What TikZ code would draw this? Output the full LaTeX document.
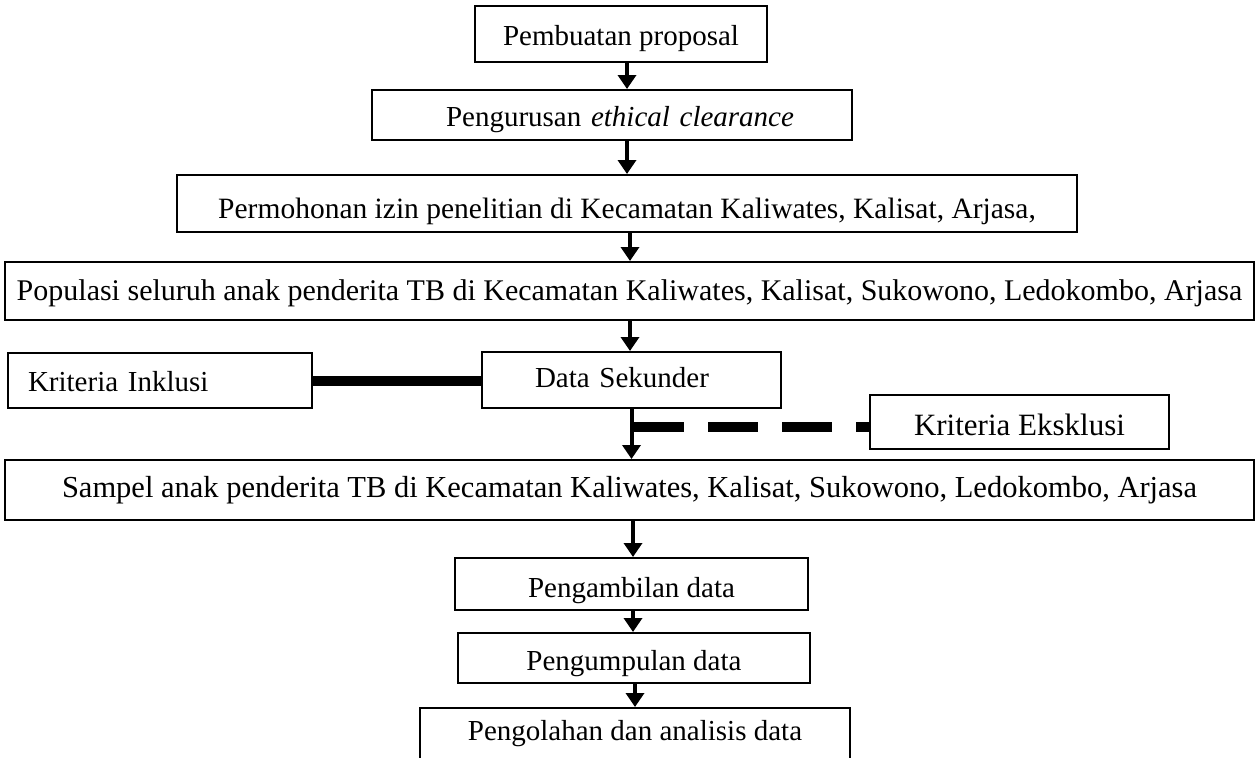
\documentclass[tikz,border=0pt]{standalone}
\usepackage{fontspec}
\setmainfont{Liberation Serif}
\usetikzlibrary{arrows.meta}

\tikzset{
  stepbox/.style={draw, line width=2pt, inner sep=0pt, align=center,
    text height=26pt, text depth=4pt, font=\fontsize{29}{34}\selectfont},
  fs/.style={font=\fontsize{#1}{#1}\selectfont},
  tb/.style n args={2}{text height=#1, text depth=#2},
  flow/.style={line width=4pt, -{Triangle[width=18pt,length=14pt]}},
  incline/.style={line width=10pt},
  exline/.style={line width=10pt, dash pattern=on 50pt off 24pt, dash phase=-2pt}
}

\begin{document}
\begin{tikzpicture}[x=1pt,y=-1pt]
  \useasboundingbox (0,0) rectangle (1259,758);
  \clip (0,0) rectangle (1259,758);
  \fill[white] (0,0) rectangle (1259,758);

  % main column of steps
  \node[stepbox, minimum width=292pt, minimum height=56pt] (b1) at (621,34) {Pembuatan proposal};
  \node[stepbox, minimum height=50pt, text width=464pt, inner xsep=8pt] (b2) at (612,115) {\hspace*{16pt}Pengurusan \textit{ethical clearance}};
  \node[stepbox, fs=29.5, tb={29pt}{0pt}, minimum width=900pt, minimum height=57pt] (b3) at (627,203.5) {Permohonan izin penelitian di Kecamatan Kaliwates, Kalisat, Arjasa,};
  \node[stepbox, fs=30, tb={24pt}{6pt}, minimum width=1249pt, minimum height=58pt] (b4) at (629.5,291) {Populasi seluruh anak penderita TB di Kecamatan Kaliwates, Kalisat, Sukowono, Ledokombo, Arjasa};

  % selection by criteria
  \node[stepbox, minimum height=55pt, text width=264pt, inner xsep=20pt, align=left] (inkl) at (160,380.5) {Kriteria Inklusi};
  \node[stepbox, tb={20pt}{6pt}, minimum height=56pt, text width=193pt, inner xsep=53pt, align=left] (ds) at (631.5,380) {Data Sekunder};
  \node[stepbox, fs=31, tb={28pt}{2pt}, minimum width=299pt, minimum height=54pt] (ek) at (1019.5,422) {Kriteria Eksklusi};

  \node[stepbox, fs=30.5, tb={20pt}{6pt}, minimum width=1249pt, minimum height=60pt] (smp) at (629.5,490) {Sampel anak penderita TB di Kecamatan Kaliwates, Kalisat, Sukowono, Ledokombo, Arjasa};

  % data handling
  \node[stepbox, tb={28pt}{2pt}, minimum width=353pt, minimum height=52pt] (pa) at (631.5,584) {Pengambilan data};
  \node[stepbox, tb={27pt}{3pt}, minimum width=352pt, minimum height=50pt] (pu) at (634,658) {Pengumpulan data};
  \node[stepbox, tb={32pt}{40pt}, minimum width=430pt, minimum height=72pt] (po) at (635,744) {Pengolahan dan analisis data};

  % arrow columns
  \coordinate (c1) at (627,0);
  \coordinate (c2) at (630,0);
  \coordinate (c3) at (633,0);
  \coordinate (c4) at (635,0);
  \coordinate (dj) at (632,427);

  \draw[flow] (b1.south -| c1) -- (b2.north -| c1);
  \draw[flow] (b2.south -| c1) -- (b3.north -| c1);
  \draw[flow] (b3.south -| c2) -- (b4.north -| c2);
  \draw[flow] (b4.south -| c2) -- (ds.north -| c2);
  \draw[flow] (ds.south) -- (smp.north -| ds.south);
  \draw[flow] (smp.south -| c3) -- (pa.north -| c3);
  \draw[flow] (pa.south -| c3) -- (pu.north -| c3);
  \draw[flow] (pu.south -| c4) -- (po.north -| c4);

  % criteria links
  \draw[incline] (inkl.east) -- (inkl.east -| ds.west);
  \draw[exline] (dj) -- (dj -| ek.west);
\end{tikzpicture}
\end{document}
